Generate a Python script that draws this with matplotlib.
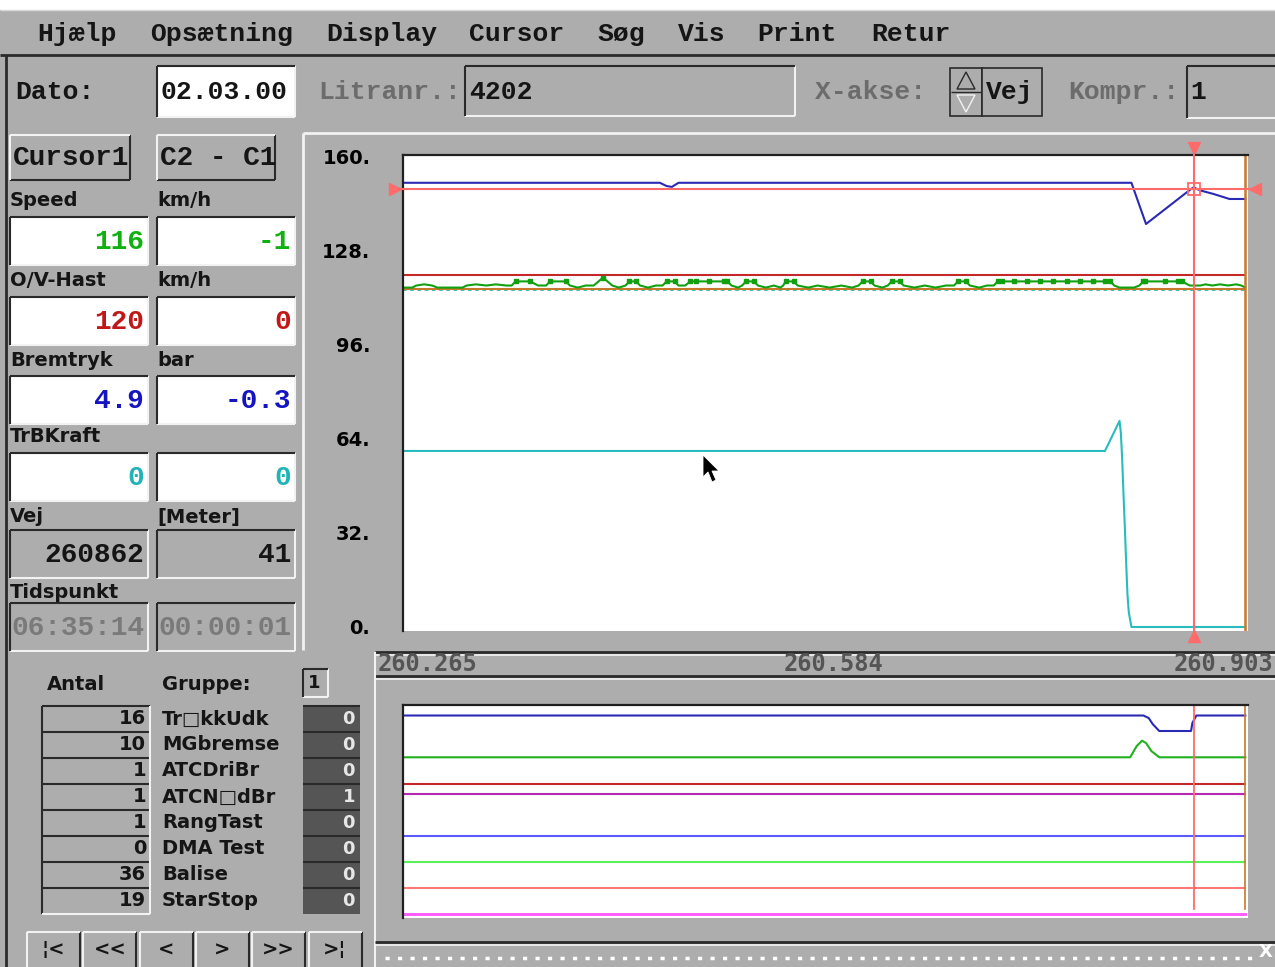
import matplotlib.pyplot as plt
from matplotlib.patches import Rectangle, Polygon

W, H = 1275, 967

# ---------------- data ----------------
x_first, x_last = 260265, 260903          # Vej in meter
x_labels = ["260.265", "260.584", "260.903"]
cursor_x = 260862
cursor_level = 148.8
end_x = 260901

y_ticks = [0, 32, 64, 96, 128, 160]
y_ticklabels = ["0.", "32.", "64.", "96.", "128.", "160."]

# Speed (blue)
speed_x = [260265, 260459, 260464, 260468, 260473, 260815, 260826,
           260860, 260862, 260867, 260877, 260889, 260901]
speed_v = [150.9, 150.9, 149.8, 149.5, 150.9, 150.9, 136.9,
           148.8, 149.3, 148.3, 147.1, 145.4, 145.4]

# O/V-Hast (dark red)
ov_x = [260265, 260901]
ov_v = [119.7, 119.7]

# speed reference (green, jittery)
green_x = [260265, 260272, 260275, 260281, 260287, 260291, 260310, 260313, 260320,
           260328, 260335, 260343, 260347, 260350, 260361, 260367, 260373, 260376,
           260388, 260391, 260397, 260403, 260409, 260416, 260423, 260428, 260433,
           260436, 260441, 260444, 260450, 260456, 260461, 260464, 260470, 260473,
           260478, 260482, 260486, 260496, 260507, 260510, 260513, 260518, 260521,
           260524, 260530, 260533, 260539, 260545, 260550, 260552, 260554, 260560,
           260563, 260571, 260578, 260587, 260596, 260604, 260609, 260612, 260618,
           260621, 260627, 260631, 260634, 260640, 260643, 260651, 260659, 260667,
           260675, 260681, 260684, 260690, 260693, 260700, 260706, 260711, 260714,
           260717, 260726, 260736, 260746, 260756, 260766, 260776, 260786, 260795,
           260799, 260802, 260806, 260817, 260821, 260824, 260825, 260840, 260850,
           260853, 260859, 260867, 260871, 260876, 260882, 260888, 260894, 260898,
           260901]
green_v = [115.3, 115.3, 116.0, 116.4, 116.0, 115.3, 115.3, 116.0, 116.4,
           116.0, 116.4, 116.0, 116.0, 117.4, 117.4, 116.0, 116.0, 117.4,
           117.4, 116.0, 115.3, 116.0, 116.0, 118.7, 116.0, 115.3, 116.0,
           117.4, 117.4, 116.0, 115.3, 116.0, 116.0, 117.4, 117.4, 116.0,
           116.0, 117.4, 117.4, 117.4, 117.4, 117.4, 116.0, 115.3, 116.0,
           117.4, 117.4, 116.0, 115.3, 116.0, 115.3, 116.0, 117.4, 117.4,
           116.0, 115.3, 116.0, 115.3, 116.0, 115.3, 116.0, 117.4, 117.4,
           116.0, 115.3, 116.0, 117.4, 117.4, 116.0, 115.3, 116.0, 115.3,
           116.0, 116.0, 117.4, 117.4, 116.0, 115.3, 116.0, 116.0, 117.4,
           117.4, 117.4, 117.4, 117.4, 117.4, 117.4, 117.4, 117.4, 117.4,
           117.4, 116.0, 115.3, 115.3, 116.0, 117.4, 117.4, 117.4, 117.4,
           117.4, 116.0, 116.0, 116.4, 116.0, 116.4, 116.0, 116.4, 116.0,
           115.3]

brown_x = [260265, 260901]
brown_v = [114.9, 114.9]
cyan_low_x = [260265, 260901]
cyan_low_v = [114.6, 114.6]

# TrBKraft (cyan)
trb_x = [260265, 260795, 260806, 260807, 260808, 260809, 260810, 260811,
         260812, 260813, 260815, 260901]
trb_v = [59.8, 59.8, 70.0, 66.0, 57.0, 45.0, 34.0, 22.0,
         11.0, 5.0, 0.0, 0.0]

# digital traces, lower panel
dig_blue_x = [260265, 260824, 260828, 260831, 260836, 260860, 260861, 260864, 260901]
dig_blue_v = [202.5, 202.5, 200.0, 194.0, 187.0, 187.0, 195.0, 202.5, 202.5]
dig_green_x = [260265, 260814, 260819, 260823, 260826, 260830, 260836, 260901]
dig_green_v = [160.7, 160.7, 172.0, 177.3, 175.0, 167.0, 160.7, 160.7]
dig_flat_x = [260265, 260901]
dig_flat_v = [134.5, 124.5, 82.0, 56.5, 30.5, 4.5]

# panel texts / values
menu = ["Hjælp", "Opsætning", "Display", "Cursor", "Søg", "Vis", "Print", "Retur"]
field_names = ["Speed", "O/V-Hast", "Bremtryk", "TrBKraft", "Vej", "Tidspunkt"]
field_units = ["km/h", "km/h", "bar", "", "[Meter]", ""]
cur1_vals = ["116", "120", "4.9", "0", "260862", "06:35:14"]
diff_vals = ["-1", "0", "-0.3", "0", "41", "00:00:01"]

counts = [16, 10, 1, 1, 1, 0, 36, 19]
events = ["Tr□kkUdk", "MGbremse", "ATCDriBr", "ATCN□dBr", "RangTast",
          "DMA Test", "Balise", "StarStop"]
states = [0, 0, 0, 1, 0, 0, 0, 0]
nav = ["¦<", "<<", "<", ">", ">>", ">¦"]

# ---------------- style ----------------
BG = '#adadad'
DARK = '#2a2a2a'
LIGHT = '#f2f2f2'
GREYTXT = '#6c6c6c'
CUR = '#ff6b6b'
C_BLUE = '#2a2ab4'
C_GREEN = '#10a010'
C_RED = '#c42828'
C_CYAN = '#28bcbc'
C_ORANGE = '#c8782a'
dig_flat_c = ['#c42828', '#b428b4', '#5a5aff', '#5af05a', '#ff7878', '#ff5aff']
val_colors = ['#10b010', '#c01818', '#1414c0', '#20b4b4', '#151515', '#7a7a7a']

plt.rcParams['font.family'] = ['DejaVu Sans']

fig = plt.figure(figsize=(W / 100, H / 100), dpi=100)
fig.patch.set_facecolor(BG)
ui = fig.add_axes([0, 0, 1, 1])
ui.set_xlim(0, W)
ui.set_ylim(H, 0)
ui.axis('off')


def hl(x0, x1, y, c, lw=1.5):
    ui.plot([x0, x1], [y, y], color=c, lw=lw, solid_capstyle='butt')


def vl(x, y0, y1, c, lw=1.5):
    ui.plot([x, x], [y0, y1], color=c, lw=lw, solid_capstyle='butt')


def box(x0, y0, x1, y1, fc=BG, sunken=True, lw=1.5):
    ui.add_patch(Rectangle((x0, y0), x1 - x0, y1 - y0, fc=fc, ec='none'))
    tl, br = (DARK, LIGHT) if sunken else (LIGHT, DARK)
    hl(x0, x1, y1, br, lw)
    vl(x1, y0, y1, br, lw)
    hl(x0, x1, y0, tl, lw)
    vl(x0, y0, y1, tl, lw)


def mono(x, y, s, size=19, color='#151515', ha='left'):
    ui.text(x, y, s, family='Liberation Mono', weight='bold', fontsize=size,
            color=color, ha=ha, va='center')


def sans(x, y, s, size=14, color='#151515', ha='left'):
    ui.text(x, y, s, family='DejaVu Sans', weight='bold', fontsize=size,
            color=color, ha=ha, va='center')


# top strip and menu
ui.add_patch(Rectangle((0, 0), W, 10, fc='white', ec='none'))
hl(0, W, 10, '#d8d8d8', 1)
for name, x in zip(menu, [37, 150, 326, 469, 597, 678, 757, 871]):
    mono(x, 34, name)
hl(0, W, 55, DARK, 2)
vl(6, 55, H, DARK, 2)

# second row
mono(15, 92, "Dato:")
box(157, 66, 295, 117, fc='white')
mono(160, 92, "02.03.00")
mono(318, 92, "Litranr.:", color=GREYTXT)
box(465, 66, 795, 116)
mono(469, 92, "4202")
mono(815, 92, "X-akse:", color=GREYTXT)
ui.add_patch(Rectangle((950, 68), 32, 48, fc=BG, ec=DARK, lw=1.2))
ui.add_patch(Polygon([[957, 89], [966, 72], [975, 89]], closed=True, fc='none', ec=DARK, lw=1))
ui.add_patch(Polygon([[957, 95], [966, 112], [975, 95]], closed=True, fc='none', ec=LIGHT, lw=1))
hl(951, 981, 92, DARK, 1)
ui.add_patch(Rectangle((982, 68), 60, 48, fc=BG, ec=DARK, lw=1.2))
mono(986, 92, "Vej")
mono(1068, 92, "Kompr.:", color=GREYTXT)
box(1187, 66, 1280, 118)
mono(1190, 92, "1")

# cursor buttons
box(10, 135, 130, 180, sunken=False)
mono(13, 158, "Cursor1", size=20)
box(157, 135, 275, 180, sunken=False)
mono(160, 158, "C2 - C1", size=20)

# value fields
label_y = [201, 281, 361, 437, 517, 592]
box_top = [217, 297, 376, 453, 530, 603]
for i in range(6):
    sans(10, label_y[i], field_names[i])
    if field_units[i]:
        sans(157, label_y[i], field_units[i])
    fc = 'white' if i < 4 else BG
    box(10, box_top[i], 148, box_top[i] + 48, fc=fc)
    box(157, box_top[i], 295, box_top[i] + 48, fc=fc)
    mono(144, box_top[i] + 25, cur1_vals[i], size=20, color=val_colors[i], ha='right')
    mono(291, box_top[i] + 25, diff_vals[i], size=20, color=val_colors[i], ha='right')

# plot panels frame lines
hl(303, W, 133, LIGHT, 2)
vl(303, 133, 650, LIGHT, 2)
hl(375, W, 652, DARK, 2)
hl(375, W, 655, LIGHT, 1.2)
hl(375, W, 676, DARK, 2)
hl(375, W, 679, LIGHT, 1.2)
vl(375, 652, H, LIGHT, 1.5)
hl(375, W, 942, DARK, 2)
hl(375, W, 944.5, LIGHT, 1.2)
ui.plot([385, 1258], [958, 958], color='white', lw=2.5, ls=(0, (1.2, 2.4)))
sans(1266, 952, "X", size=13, color='white', ha='center')

# x-axis labels strip
x_lab_pos = [(378, 'left'), ((378 + 1273) / 2 + 8, 'center'), (1273, 'right')]
for lab, (xp, ha) in zip(x_labels, x_lab_pos):
    ui.text(xp, 664, lab, family='DejaVu Sans Mono', weight='bold', fontsize=17,
            color='#555555', ha=ha, va='center')

# event table
sans(47, 684, "Antal")
sans(162, 684, "Gruppe:")
box(303, 669, 328, 697)
sans(308, 683, "1", size=13)
for i in range(len(events)):
    top = 706 + 26 * i
    ui.add_patch(Rectangle((42, top), 108, 26, fc=BG, ec='none'))
    hl(42, 150, top, DARK, 1.5)
    vl(42, top, top + 26, DARK, 1.5)
    ui.add_patch(Rectangle((303, top), 57, 26, fc='#555555', ec='none'))
    hl(303, 360, top, DARK, 1.5)
    sans(146, top + 13, str(counts[i]), ha='right')
    sans(162, top + 13, events[i])
    sans(355, top + 13, str(states[i]), size=13, color='#e6e6e6', ha='right')
hl(42, 150, 914, LIGHT, 1.5)
vl(150, 706, 914, LIGHT, 1.5)

# navigation buttons
for i, lab in enumerate(nav):
    x0 = 27 + 56.3 * i
    box(x0, 932, x0 + 53, 970, sunken=False)
    sans(x0 + 26.5, 950, lab, size=14, ha='center')

# ---------------- main plot ----------------
ax = fig.add_axes([403 / W, 1 - 631 / H, 845 / W, 476 / H])
ax.set_facecolor('white')
ax.set_xlim(x_first, x_last)
ax.set_ylim(-1.36, 160.34)
for s in ['right', 'bottom']:
    ax.spines[s].set_visible(False)
for s in ['top', 'left']:
    ax.spines[s].set_color('#202020')
    ax.spines[s].set_linewidth(1.6)
ax.set_xticks([])
ax.set_yticks(y_ticks)
ax.set_yticklabels(y_ticklabels, fontsize=14, fontweight='bold')
ax.tick_params(axis='y', length=0, pad=23.5)

lw = 1.5
ax.plot(cyan_low_x, cyan_low_v, color=C_CYAN, lw=1.3, ls=(0, (2, 2)))
ax.plot(brown_x, brown_v, color=C_ORANGE, lw=lw)
ax.plot(ov_x, ov_v, color=C_RED, lw=lw)
hi = [i for i, v in enumerate(green_v) if v >= 117]
ax.plot(green_x, green_v, color=C_GREEN, lw=lw, marker='s', ms=3, markevery=hi)
ax.plot(trb_x, trb_v, color=C_CYAN, lw=lw)
ax.plot(speed_x, speed_v, color=C_BLUE, lw=lw)
ax.axvline(end_x, color=C_ORANGE, lw=1.8)

# cursor
ax.axvline(cursor_x, ymin=-0.011, ymax=1.015, color=CUR, lw=1.5, clip_on=False, zorder=4)
ax.axhline(cursor_level, xmin=-0.009, xmax=1.008, color=CUR, lw=1.5, clip_on=False, zorder=4)
xt = ax.get_xaxis_transform()
yt = ax.get_yaxis_transform()
ax.plot([cursor_x], [1.014], marker='v', ms=8, color=CUR, transform=xt, clip_on=False)
ax.plot([cursor_x], [-0.011], marker='^', ms=8, color=CUR, transform=xt, clip_on=False)
ax.plot([-0.009], [cursor_level], marker='>', ms=8, color=CUR, transform=yt, clip_on=False)
ax.plot([1.008], [cursor_level], marker='<', ms=8, color=CUR, transform=yt, clip_on=False)
ax.plot([cursor_x], [cursor_level], marker='s', ms=8, mfc='none', mec=CUR, mew=1.3, zorder=5)

# ---------------- lower digital plot ----------------
ax2 = fig.add_axes([403 / W, 1 - 918 / H, 845 / W, 213 / H])
ax2.set_facecolor('white')
ax2.set_xlim(x_first, x_last)
ax2.set_ylim(0, 213)
for s in ['right', 'bottom']:
    ax2.spines[s].set_visible(False)
for s in ['top', 'left']:
    ax2.spines[s].set_color('#202020')
    ax2.spines[s].set_linewidth(1.6)
ax2.set_xticks([])
ax2.set_yticks([])
ax2.plot(dig_blue_x, dig_blue_v, color=C_BLUE, lw=lw)
ax2.plot(dig_green_x, dig_green_v, color='#20b020', lw=lw)
for v, c in zip(dig_flat_v, dig_flat_c):
    ax2.plot(dig_flat_x, [v, v], color=c, lw=lw + (0.6 if v < 10 else 0))
ax2.axvline(end_x, color=C_ORANGE, lw=1.2, ymin=0.04)
ax2.axvline(cursor_x, ymin=0.04, ymax=1, color=CUR, lw=1.3)

# mouse pointer on top
top = fig.add_axes([0, 0, 1, 1], zorder=10)
top.set_xlim(0, W)
top.set_ylim(H, 0)
top.axis('off')
tip = (703, 455)
shape = [(0, 0), (0, 22), (5, 17), (9, 27), (13, 25), (9, 16), (16, 16)]
top.add_patch(Polygon([(tip[0] + a, tip[1] + b) for a, b in shape], closed=True,
                      fc='black', ec='white', lw=0.6))

fig.savefig('out.png', dpi=100, facecolor=BG)
